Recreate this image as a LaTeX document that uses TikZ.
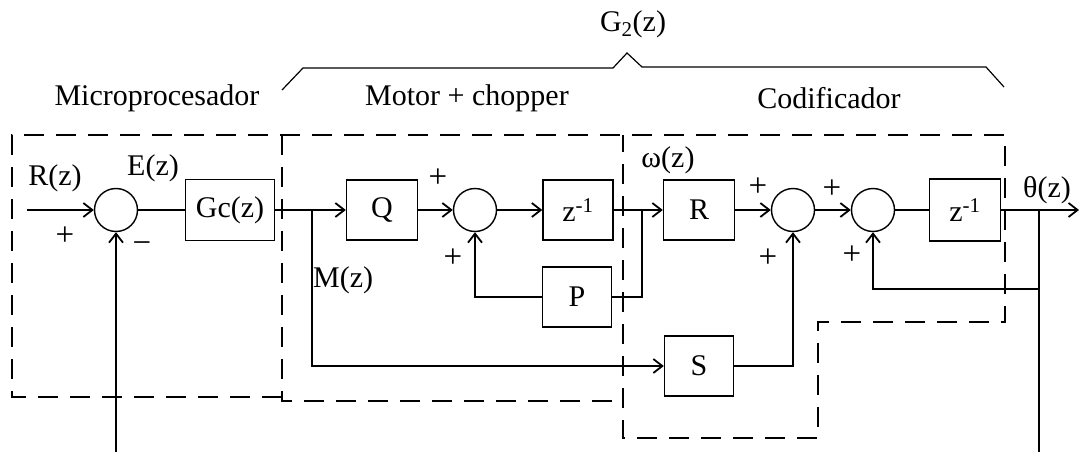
\documentclass[tikz,border=0pt]{standalone}
\usepackage{fontspec}
\setmainfont{Liberation Serif}
\usetikzlibrary{arrows.meta}
\newcommand\lblsz{\fontsize{30}{34}\selectfont}
\newcommand\ttlsz{\fontsize{30}{36}\selectfont}
\newcommand\sgnsz{\fontsize{33}{36}\selectfont}
\begin{document}
\begin{tikzpicture}[x=1pt,y=-1pt,
  >={Straight Barb[length=9pt,width=14pt,line width=1.8pt]},
  blk/.style={draw,line width=1.4pt,minimum width=70pt,minimum height=60pt,inner sep=0pt,font=\lblsz},
  sumc/.style={draw,circle,minimum size=43pt,inner sep=0pt,line width=1.4pt},
  lab/.style={font=\lblsz,inner sep=0pt},
  sgn/.style={font=\sgnsz,inner sep=0pt},
  ttl/.style={font=\ttlsz,inner sep=0pt},
  region/.style={line width=1.8pt,dash pattern=on 20pt off 12pt},
  conn/.style={line width=1.1pt}]
\useasboundingbox (0,0) rectangle (1079,452);
% blocks
\node[sumc] (s1) at (116,210) {};
\node[blk,minimum width=89pt,minimum height=61pt] (gc) at (230,210) {Gc(z)};
\node[blk,minimum width=71pt] (q) at (382,210) {Q};
\node[sumc] (s2) at (475,210) {};
\node[blk] (z1) at (578,210) {z\textsuperscript{-1}};
\node[blk,minimum width=71pt] (r) at (699,210) {R};
\node[sumc] (s3) at (793,210) {};
\node[sumc] (s4) at (873,210) {};
\node[blk,minimum width=71pt,minimum height=62pt] (z2) at (965,210) {z\textsuperscript{-1}};
\node[blk,minimum width=69pt] (p) at (577,297) {P};
\node[blk,minimum width=69pt] (s) at (699,366) {S};
% coordinates
\coordinate (rin) at (27,210);
\coordinate (fbl) at (116,452);
\coordinate (mb) at (312,210);
\coordinate (wb) at (642,210);
\coordinate (tb) at (1039,210);
\coordinate (tc) at (1039,289);
\coordinate (tbot) at (1039,452);
\coordinate (out) at (1079,210);
% main path
\draw[conn,->] (rin) -- (s1);
\draw[conn] (s1) -- (gc);
\draw[conn,->] (gc) -- (q);
\draw[conn,->] (q) -- (s2);
\draw[conn,->] (s2) -- (z1);
\draw[conn,->] (z1) -- (r);
\draw[conn,->] (r) -- (s3);
\draw[conn,->] (s3) -- (s4);
\draw[conn] (s4) -- (z2);
\draw[conn,->] (z2) -- (out);
% branches
\draw[conn,->] (mb) |- (s);
\draw[conn] (wb) |- (p);
\draw[conn,->] (p) -| (s2);
\draw[conn,->] (s) -| (s3);
\draw[conn] (tb) -- (tbot);
\draw[conn,->] (tc) -| (s4);
\draw[conn,->] (fbl) -- (s1);
% labels
\node[lab] (lr) at (55,178) {R(z)};
\node[sgn] (p1) at (65,236) {+};
\node[lab] (le) at (153,168) {E(z)};
\node[sgn] (m1) at (142,248) {−};
\node[lab,anchor=west] (lm) at (313,280) {M(z)};
\node[sgn] (p2) at (438,178) {+};
\node[sgn] (p3) at (453,258) {+};
\node[lab] (lw) at (668,160) {ω(z)};
\node[sgn] (p4) at (758,187) {+};
\node[sgn] (p5) at (768,258) {+};
\node[sgn] (p6) at (832,189) {+};
\node[sgn] (p7) at (852,255) {+};
\node[lab] (lt) at (1047,190) {θ(z)};
% titles
\node[ttl] (t1) at (157,98) {Microprocesador};
\node[ttl] (t2) at (467,98) {Motor + chopper};
\node[ttl] (t3) at (829,98) {Codificador};
\node[ttl] (tg) at (633,24) {G\textsubscript{2}(z)};
% bracket
\draw[line width=1.2pt] (282,90) -- (303,68) -- (613,68) -- (627,53) -- (642,67) -- (986,67) -- (1004,87);
% dashed regions
\draw[region] (282,397) -- (12,397) -- (12,135) -- (1005,135) -- (1005,322) -- (818,322) -- (818,438) -- (623,438) -- (623,135);
\draw[region] (282,135) -- (282,401) -- (623,401);
\end{tikzpicture}
\end{document}
